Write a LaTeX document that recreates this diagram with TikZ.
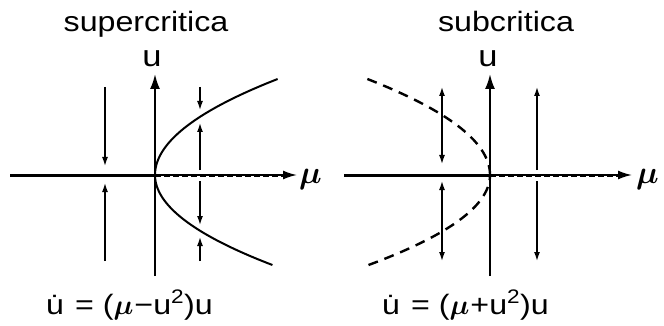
\documentclass[tikz,border=0pt]{standalone}
\usepackage{fix-cm}
\usepackage{amsmath}
\usepackage{fontspec}
\setmainfont{Liberation Sans}
\newfontfamily\widefont[FakeStretch=1.15]{Liberation Sans}
\usetikzlibrary{arrows.meta}
\tikzset{
 axisline/.style={line width=2pt, -{Latex[length=15pt,width=10pt]}},
 haxis/.style={line width=1.8pt, -{Latex[length=14pt,width=9pt]}},
 stablepart/.style={line width=3pt},
 unstablepart/.style={line width=3pt, dash pattern=on 6pt off 3pt},
 flow/.style={line width=1.4pt, -{Latex[length=9pt,width=6pt]}},
 flowboth/.style={line width=1.4pt, {Latex[length=9pt,width=6pt]}-{Latex[length=9pt,width=6pt]}},
 branch/.style={line width=2pt},
 ubranch/.style={line width=2.4pt, dash pattern=on 10pt off 7pt},
 title/.style={font=\widefont\fontsize{28}{32}\selectfont, anchor=base, inner sep=0pt},
 ulabel/.style={font=\widefont\fontsize{30}{34}\selectfont, anchor=base, inner sep=0pt},
 mulabel/.style={font=\fontsize{32}{36}\selectfont, anchor=base west, inner sep=0pt},
 eqlabel/.style={font=\widefont\fontsize{28}{32}\selectfont, anchor=base west, inner sep=0pt},
}
\begin{document}
\begin{tikzpicture}[x=1pt,y=-1pt]
\useasboundingbox (0,0) rectangle (664,326);
\fill[white] (0,0) rectangle (664,326);

% ---------- left panel (supercritical) ----------
\coordinate (Lstart) at (10,175);
\coordinate (L0) at (155,175);
\coordinate (Ldash) at (284,175);
\coordinate (Lend) at (297,175);
\coordinate (Lbot) at (155,276);
\coordinate (Ltop) at (155,74);
\draw[stablepart] (Lstart) -- (L0);
\draw[haxis] (L0) -- (Lend);
\draw[unstablepart] (L0) -- (Ldash);
\draw[axisline] (Lbot) -- (Ltop);
\draw[branch] plot[domain=0:96, smooth, samples=40] ({155+0.0133*\x*\x},{175-\x});
\draw[branch] plot[domain=0:90, smooth, samples=40] ({155+0.0145*\x*\x},{175+\x});

\coordinate (a1) at (105,87);  \coordinate (a2) at (105,166);
\coordinate (a3) at (105,261); \coordinate (a4) at (105,183);
\draw[flow] (a1) -- (a2);
\draw[flow] (a3) -- (a4);
\coordinate (b1) at (200,87);  \coordinate (b2) at (200,110);
\coordinate (b3) at (200,170); \coordinate (b4) at (200,123);
\coordinate (b5) at (200,181); \coordinate (b6) at (200,225);
\coordinate (b7) at (200,261); \coordinate (b8) at (200,237);
\draw[flow] (b1) -- (b2);
\draw[flow] (b3) -- (b4);
\draw[flow] (b5) -- (b6);
\draw[flow] (b7) -- (b8);

\node[title] (t1) at (146,32) {supercritica};
\node[ulabel] (u1) at (152,67) {u};
\node[mulabel] (m1) at (299,183) {$\boldsymbol{\mu}$};
\node[eqlabel] (e1) at (46,314) {\.u\hspace{11pt}=\hspace{9pt}($\boldsymbol{\mu}$\hspace{1pt}−u\textsuperscript{2})u};

% ---------- right panel (subcritical) ----------
\coordinate (Rstart) at (344,175);
\coordinate (R0) at (490,175);
\coordinate (Rdash) at (619,175);
\coordinate (Rend) at (632,175);
\coordinate (Rbot) at (490,276);
\coordinate (Rtop) at (490,74);
\draw[stablepart] (Rstart) -- (R0);
\draw[haxis] (R0) -- (Rend);
\draw[unstablepart] (R0) -- (Rdash);
\draw[axisline] (Rbot) -- (Rtop);
\draw[ubranch] plot[domain=96:0, smooth, samples=40] ({490-0.0133*\x*\x},{175-\x});
\draw[ubranch] plot[domain=90:0, smooth, samples=40] ({490-0.015*\x*\x},{175+\x});

\coordinate (c1) at (442,87);  \coordinate (c2) at (442,164);
\coordinate (c3) at (442,181); \coordinate (c4) at (442,261);
\draw[flowboth] (c1) -- (c2);
\draw[flowboth] (c3) -- (c4);
\coordinate (d1) at (537,170); \coordinate (d2) at (537,87);
\coordinate (d3) at (537,181); \coordinate (d4) at (537,261);
\draw[flow] (d1) -- (d2);
\draw[flow] (d3) -- (d4);

\node[title] (t2) at (506,32) {subcritica};
\node[ulabel] (u2) at (488,67) {u};
\node[mulabel] (m2) at (636,183) {$\boldsymbol{\mu}$};
\node[eqlabel] (e2) at (382,314) {\.u\hspace{11pt}=\hspace{9pt}($\boldsymbol{\mu}$\hspace{1pt}+u\textsuperscript{2})u};
\end{tikzpicture}
\end{document}
